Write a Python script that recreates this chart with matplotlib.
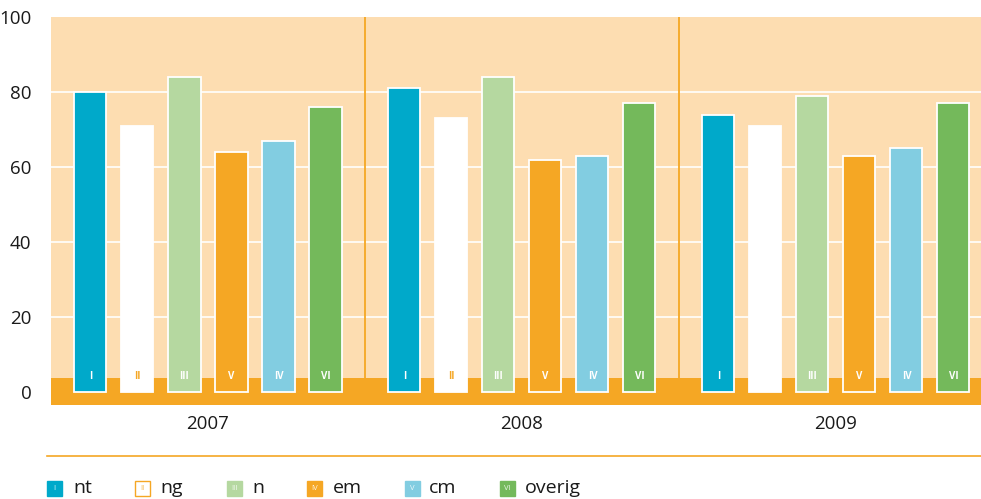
import numpy as np
import matplotlib
matplotlib.use("Agg")
from matplotlib import pyplot as plt
from matplotlib.patches import Rectangle

plt.rcParams['font.family'] = ['Open Sans', 'DejaVu Sans']

# data
years = ['2007', '2008', '2009']
series = ['nt', 'ng', 'n', 'em', 'cm', 'overig']
values = {
    'nt':     [80, 81, 74],
    'ng':     [71, 73, 71],
    'n':      [84, 84, 79],
    'em':     [64, 62, 63],
    'cm':     [67, 63, 65],
    'overig': [76, 77, 77],
}
bar_numerals = ['I', 'II', 'III', 'V', 'IV', 'VI']
legend_numerals = ['I', 'II', 'III', 'IV', 'V', 'VI']
colors = ['#00A9CA', '#FFFFFF', '#B5D8A0', '#F5A724', '#82CDE1', '#74B95B']
numeral_colors = ['white', '#F5A724', 'white', 'white', 'white', 'white']
orange = '#F5A724'
peach = '#FDDDB1'

W, H = 981, 499
fig = plt.figure(figsize=(W / 100, H / 100), dpi=100)
ax = fig.add_axes([51 / W, 1 - 405 / H, (W - 51) / W, (405 - 17.3) / H])
ax.set_facecolor(peach)
for s in ax.spines.values():
    s.set_visible(False)

ax.set_xlim(-0.5, 2.462)
ax.set_ylim(-3.5, 100)

# white gridlines
for g in [20, 40, 60, 80]:
    ax.axhline(g, color='white', lw=1.2, zorder=1)
# orange band at the bottom
ax.axhspan(-3.5, 3.6, color=orange, lw=0, zorder=1.5)
# group separators
for xs in [0.5, 1.5]:
    ax.axvline(xs, color=orange, lw=1.3, zorder=1.2)

x = np.arange(len(years))
step = 0.1497
width = 0.102
for i, name in enumerate(series):
    xi = x + (i - 2.5) * step
    ax.bar(xi, values[name], width=width, color=colors[i],
           edgecolor='white', linewidth=1.3, zorder=3)
    for j, xv in enumerate(xi):
        if name == 'ng' and j == 2:
            continue
        ax.text(xv, 4.1, bar_numerals[i], ha='center', va='center',
                color=numeral_colors[i], fontsize=7, fontweight='bold',
                zorder=4)

ax.set_yticks([0, 20, 40, 60, 80, 100])
ax.set_xticks(x)
ax.set_xticklabels(years)
ax.tick_params(axis='y', length=0, pad=14, labelsize=13.5, labelcolor='#1a1a1a')
ax.tick_params(axis='x', length=0, pad=7, labelsize=13.5, labelcolor='#1a1a1a')

# separator line above the legend
fig.add_artist(plt.Line2D([47 / W, 1], [1 - 456 / H] * 2,
                          color=orange, lw=1.2, transform=fig.transFigure))

# legend
sq_x = [47, 135, 227, 307, 405, 500]
txt_x = [73, 160, 252, 333, 429, 525]
sq = 15
ly = 488
for i, name in enumerate(series):
    ec = orange if name == 'ng' else colors[i]
    fig.add_artist(Rectangle((sq_x[i] / W, 1 - (ly + sq / 2) / H), sq / W, sq / H,
                             facecolor=colors[i], edgecolor=ec, lw=1,
                             transform=fig.transFigure))
    fig.text((sq_x[i] + sq / 2) / W, 1 - ly / H, legend_numerals[i],
             ha='center', va='center', fontsize=5.5, color=numeral_colors[i],
             alpha=0.85)
    fig.text(txt_x[i] / W, 1 - ly / H, name, ha='left', va='center',
             fontsize=14, color='#1a1a1a')

fig.savefig('out.png', dpi=100)
